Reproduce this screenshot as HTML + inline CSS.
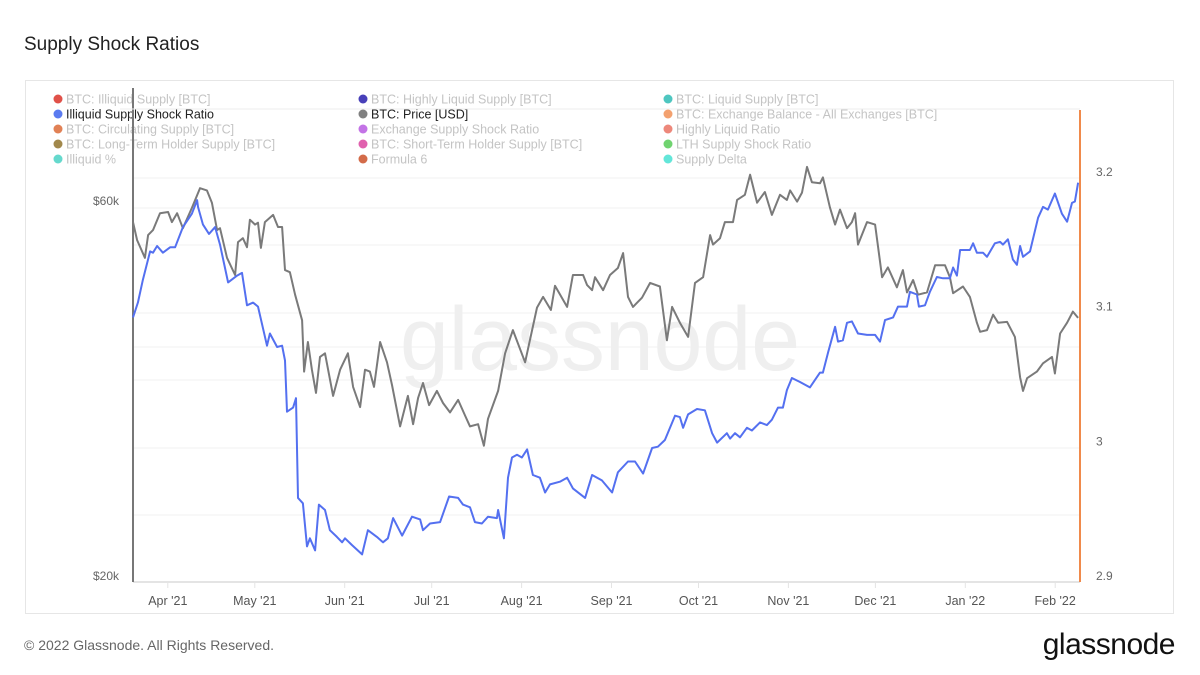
<!DOCTYPE html>
<html><head><meta charset="utf-8">
<style>
body{margin:0;background:#fff;font-family:"Liberation Sans",sans-serif;}
#wrap{position:relative;width:1200px;height:675px;overflow:hidden;}
</style></head><body>
<div id="wrap">
<svg id="svg" width="1200" height="675" xmlns="http://www.w3.org/2000/svg">
<text x="24" y="50" font-size="19" fill="#222">Supply Shock Ratios</text>
<rect x="25.5" y="80.5" width="1148" height="533" fill="none" stroke="#e6e6e6"/>
<g id="grid"></g>
<text x="400" y="370" font-size="90" fill="#efefef" textLength="400" lengthAdjust="spacingAndGlyphs">glassnode</text>
<g id="legend"></g>
<g id="axes"></g>
<g id="series"></g>
<text x="24" y="650" font-size="14" fill="#666">© 2022 Glassnode. All Rights Reserved.</text>
<text x="1175" y="654" font-size="30" fill="#111" text-anchor="end" letter-spacing="-0.5">glassnode</text>
</svg>
</div>
<script>
const NS="http://www.w3.org/2000/svg";
// data: day offsets from 2021-03-20
const priceDays=[0,1.4,4.1,5.2,6.9,9.3,12.1,13.4,15.2,17.2,20.3,23.1,25.5,27.2,29,30,32.4,35.2,36.2,37.9,39.3,40.3,42.1,43.1,44.1,45.5,48.3,50,51.4,52.4,54.1,55.9,58.3,59,60.3,61.7,63.1,64.5,66.2,69,71.4,74.1,75.9,78.3,80,81.7,83.1,85.2,87.6,89.3,92.1,94.8,96.6,98.3,100,102.1,104.8,106.9,109.3,112.1,114.5,116.2,119,121,122.4,125.9,128.3,131,135.2,139.3,141.4,144.1,145.5,149.7,151.7,155.2,156.6,158.3,159.3,162.1,164.5,167.2,169,170.7,172.4,175.5,178.3,181.7,184.1,185.9,188.6,191.4,193.8,196.6,199,200,202.4,204.1,206.9,208.3,211,212.8,215.2,217.9,220.3,223.1,225.5,226.6,229,230.7,232.4,234.1,236.9,237.9,240.3,242.1,243.8,246.2,247.9,249,250,253.1,255.9,258.3,260.3,263.4,265.5,266.9,269,270.7,273.8,276.6,280,281.7,282.8,286.2,288.6,291,292.1,294.5,296.6,298.3,301.4,304.1,305.9,306.9,308.3,311.7,313.8,316.9,317.9,319.7,322.1,324.1,325.9];
const priceValues=[56.4,53.5,50.8,54.3,55.1,57.9,58.1,56.4,57.9,55.4,58.8,62.3,61.9,59.7,55.1,55.4,50.8,48.3,53.2,53.8,52.4,56.8,56.0,56.3,52.3,56.4,57.6,55.6,55.6,49.0,48.7,45.6,42.3,36.4,39.7,36.6,34.2,38.0,38.4,33.9,36.6,38.4,34.8,32.8,36.6,36.4,34.8,39.7,37.4,35.0,31.0,33.9,31.2,33.7,35.2,33.0,34.4,33.2,32.3,33.5,32.0,31.0,31.2,29.3,31.7,34.4,38.4,41.1,37.4,43.9,45.3,43.6,46.8,44.0,48.3,48.3,46.9,46.2,48.0,46.2,48.3,49.3,51.5,45.3,44.0,45.2,47.2,46.7,39.9,44.0,42.0,40.3,47.2,48.0,54.3,52.8,53.8,56.4,56.4,60.2,61.1,64.8,59.7,61.6,57.6,61.1,60.2,61.9,59.9,61.5,66.3,63.4,63.2,64.3,58.9,56.0,58.5,55.4,56.4,57.9,52.8,56.4,56.0,48.0,49.4,46.6,49.0,45.9,47.6,45.6,45.9,49.7,49.7,48.0,45.8,46.7,45.3,42.0,40.9,41.1,43.0,42.0,42.1,40.3,35.8,34.4,35.7,36.4,37.3,38.0,36.2,40.7,42.0,43.4,42.6];
const ratioDays=[0,1.7,3.4,5.9,6.9,8.3,10.3,12.8,14.5,17.2,20.3,22.1,22.4,24.1,26.2,28.3,30,31.7,32.8,35.9,37.6,39.3,41.4,43.1,46.2,47.2,49.7,51.4,52.4,53.1,55.2,56.2,56.9,58.6,60,61,62.8,64.1,66.2,67.9,70.3,72.1,73.1,75.5,79,81,84.1,86.2,87.9,89.7,92.8,96.2,99,100,102.4,105.9,109,112.1,113.8,116.2,117.9,120.3,122.4,125.5,125.9,127.9,129.3,130.7,132.4,134.1,135.9,137.9,140.3,142.1,143.8,147.2,149.7,151.7,155.9,158.3,161.7,165.2,167.2,170.7,173.1,175.9,179,181,183.4,186.9,188.6,189.7,191.4,194.5,197.2,199.7,201.4,204.8,205.9,207.6,209.3,211.7,213.4,216.2,218.6,220.3,222.4,224.1,225.5,227.2,230,233.4,236.9,237.9,239.7,242.1,243.1,244.8,246.2,247.9,250,253.1,255.9,257.6,259.3,262.1,263.8,266.9,267.9,270.3,271,273.1,274.8,277.2,279.3,281.7,282.8,284.1,285.2,288.6,289.7,291,293.1,294.5,297.2,299,300,301.7,303.4,304.8,305.9,306.9,309.3,312.1,313.8,315.5,317.9,320.3,322.1,323.8,324.8,325.9];
const ratioValues=[3.092,3.103,3.120,3.141,3.140,3.145,3.140,3.144,3.144,3.159,3.169,3.179,3.174,3.161,3.154,3.159,3.146,3.129,3.118,3.123,3.125,3.101,3.103,3.100,3.071,3.080,3.070,3.071,3.060,3.022,3.025,3.032,2.958,2.954,2.922,2.928,2.919,2.953,2.949,2.934,2.929,2.925,2.928,2.923,2.916,2.934,2.929,2.925,2.928,2.943,2.930,2.944,2.942,2.934,2.939,2.940,2.959,2.958,2.953,2.951,2.940,2.939,2.944,2.943,2.949,2.928,2.973,2.988,2.990,2.988,2.994,2.975,2.973,2.962,2.968,2.970,2.973,2.965,2.958,2.975,2.971,2.962,2.977,2.985,2.985,2.976,2.995,2.996,3.001,3.019,3.018,3.010,3.020,3.024,3.023,3.006,2.999,3.006,3.002,3.006,3.003,3.010,3.008,3.014,3.012,3.016,3.025,3.025,3.038,3.047,3.044,3.040,3.051,3.051,3.066,3.085,3.074,3.075,3.088,3.089,3.080,3.079,3.079,3.074,3.090,3.092,3.100,3.100,3.111,3.109,3.100,3.101,3.111,3.122,3.121,3.121,3.129,3.123,3.142,3.142,3.147,3.140,3.140,3.137,3.147,3.148,3.146,3.150,3.135,3.131,3.145,3.137,3.141,3.166,3.174,3.172,3.184,3.169,3.163,3.177,3.178,3.192];
const monthLabels=["Apr '21","May '21","Jun '21","Jul '21","Aug '21","Sep '21","Oct '21","Nov '21","Dec '21","Jan '22","Feb '22"];
const monthDays=[12,42,73,103,134,165,195,226,256,287,318];
const ratioTicks=[2.9,3,3.1,3.2];
const priceTicks=[20,60];
const legendLabels=["BTC: Illiquid Supply [BTC]","BTC: Highly Liquid Supply [BTC]","BTC: Liquid Supply [BTC]","Illiquid Supply Shock Ratio","BTC: Price [USD]","BTC: Exchange Balance - All Exchanges [BTC]","BTC: Circulating Supply [BTC]","Exchange Supply Shock Ratio","Highly Liquid Ratio","BTC: Long-Term Holder Supply [BTC]","BTC: Short-Term Holder Supply [BTC]","LTH Supply Shock Ratio","Illiquid %","Formula 6","Supply Delta"];
const legendColors=["#d8261c","#1a10a8","#22b8b0","#5b7bf0","#808080","#f08a4b","#d9622b","#b450e0","#e86a5a","#8a6a1f","#d83a9a","#4cc84c","#3fcfc0","#c8461c","#3ce0d0"];
const legendActive=[false,false,false,true,true,false,false,false,false,false,false,false,false,false,false];

const X0=133,PXD=2.9;
const x=d=>X0+d*PXD;
const yP=v=>576-375*Math.log(v/20)/Math.log(3);
const yR=v=>576-(v-2.9)*1347;
function mk(tag,attrs,parent){const e=document.createElementNS(NS,tag);for(const k in attrs)e.setAttribute(k,attrs[k]);parent.appendChild(e);return e;}

const grid=document.getElementById('grid');
[178,208,245,313,347,380,448,515].forEach(gy=>{
 const l=mk('line',{x1:133,x2:1080,y1:gy,y2:gy,stroke:'#f2f2f2','stroke-width':1},grid);
 
 
});

const axes=document.getElementById('axes');
let t;
t=mk('line',{x1:133,x2:1080,y1:582,y2:582,stroke:'#e4e4e4','stroke-width':2},axes);


t=mk('line',{x1:133,x2:133,y1:88,y2:582,stroke:'#777','stroke-width':2},axes);


t=mk('line',{x1:1080,x2:1080,y1:110,y2:582,stroke:'#f08a4b','stroke-width':2},axes);


t=mk('line',{x1:120,x2:1080,y1:109,y2:109,stroke:'#eeeeee','stroke-width':1},axes);


monthLabels.forEach((lab,i)=>{
 const xx=x(monthDays[i]);
 const tk=mk('line',{x1:xx,x2:xx,y1:583,y2:588,stroke:'#e4e4e4'},axes);
 
 
 const tx=mk('text',{x:xx,y:605,'font-size':12.5,fill:'#555','text-anchor':'middle'},axes);
 tx.textContent=lab;
 
 
});
priceTicks.forEach(v=>{
 const tx=mk('text',{x:119,y:yP(v)+4,'font-size':12,fill:'#666','text-anchor':'end'},axes);
 tx.textContent='$'+v+'k';
 
 
});
ratioTicks.forEach(v=>{
 const tx=mk('text',{x:1096,y:yR(v)+4,'font-size':12,fill:'#666'},axes);
 tx.textContent=String(v);
 
 
});

const lg=document.getElementById('legend');
legendLabels.forEach((lab,i)=>{
 const col=i%3,row=Math.floor(i/3);
 const lx=[58,363,668][col],ly=99+row*15;
 const g=mk('g',{},lg);
 
 
 mk('circle',{cx:lx,cy:ly,r:4.5,fill:legendColors[i],opacity:legendActive[i]?1:0.8},g);
 const tx=mk('text',{x:lx+8,y:ly+4.5,'font-size':12.5,fill:legendActive[i]?'#222':'#c4c4c4'},g);
 tx.textContent=lab;
});

const ser=document.getElementById('series');
const pp=mk('path',{d:priceDays.map((d,i)=>(i?'L':'M')+x(d).toFixed(1)+','+yP(priceValues[i]).toFixed(1)).join(''),fill:'none',stroke:'#7a7a7a','stroke-width':2,'stroke-linejoin':'round'},ser);


const rp=mk('path',{d:ratioDays.map((d,i)=>(i?'L':'M')+x(d).toFixed(1)+','+yR(ratioValues[i]).toFixed(1)).join(''),fill:'none',stroke:'#5470f0','stroke-width':2,'stroke-linejoin':'round'},ser);


</script>
</body></html>
